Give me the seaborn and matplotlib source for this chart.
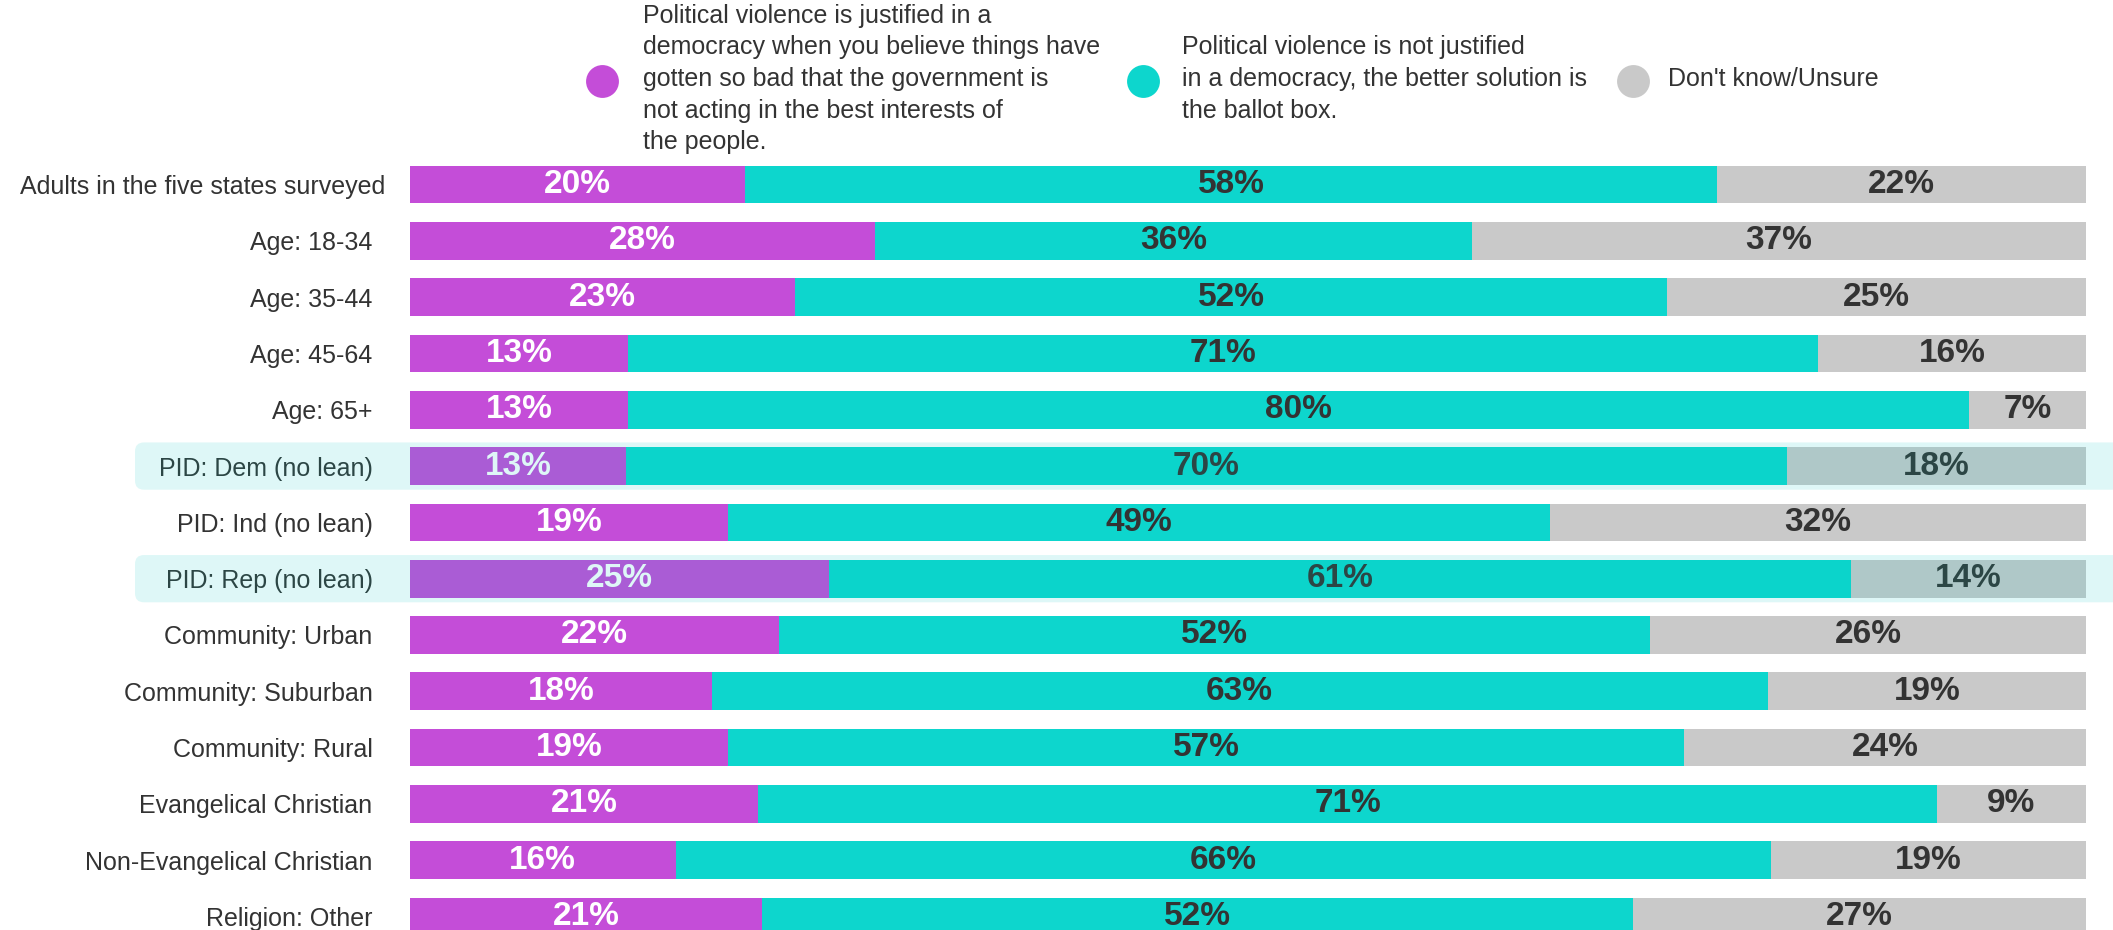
import numpy as np
import pandas as pd
import matplotlib.pyplot as plt
import seaborn as sns
from matplotlib.patches import FancyBboxPatch
from matplotlib.transforms import blended_transform_factory, ScaledTranslation

# --- data ---
groups = [
    'Adults in the five states surveyed', 'Age: 18-34', 'Age: 35-44', 'Age: 45-64',
    'Age: 65+', 'PID: Dem (no lean)', 'PID: Ind (no lean)', 'PID: Rep (no lean)',
    'Community: Urban', 'Community: Suburban', 'Community: Rural',
    'Evangelical Christian', 'Non-Evangelical Christian', 'Religion: Other',
]
justified = [20, 28, 23, 13, 13, 13, 19, 25, 22, 18, 19, 21, 16, 21]
not_justified = [58, 36, 52, 71, 80, 70, 49, 61, 52, 63, 57, 71, 66, 52]
unsure = [22, 37, 25, 16, 7, 18, 32, 14, 26, 19, 24, 9, 19, 27]
highlighted = ['PID: Dem (no lean)', 'PID: Rep (no lean)']

legend_labels = [
    'Political violence is justified in a\ndemocracy when you believe things have\n'
    'gotten so bad that the government is\nnot acting in the best interests of\nthe people.',
    'Political violence is not justified\nin a democracy, the better solution is\nthe ballot box.',
    "Don't know/Unsure",
]

PURPLE = '#c44dd8'
TEAL = '#0dd6cd'
GRAY = '#c9c9c9'
DARK = '#333333'

sns.set_style('white')
plt.rcParams['font.family'] = ['Liberation Sans', 'DejaVu Sans']

# rounded totals don't always add to 100, so scale each row to its total
df = pd.DataFrame({'group': groups, 'j': justified, 'n': not_justified, 'u': unsure})
df['total'] = df[['j', 'n', 'u']].sum(axis=1)
df['j_pct'] = df['j'] / df['total'] * 100
df['jn_pct'] = (df['j'] + df['n']) / df['total'] * 100
df['all_pct'] = 100.0

W, H = 2113, 930
fig = plt.figure(figsize=(W / 100, H / 100), dpi=100)
ax = fig.add_axes([410 / W, 0, (2086 - 410) / W, 773.6 / H])

# stacked bars: draw cumulative totals back to front
for col, colour in [('all_pct', GRAY), ('jn_pct', TEAL), ('j_pct', PURPLE)]:
    sns.barplot(data=df, x=col, y='group', orient='h', color=colour,
                saturation=1, width=0.67, linewidth=0, ax=ax)

ax.set_xlim(0, 100)
ax.set_ylim(13.24, -0.5)
ax.set_xlabel('')
ax.set_ylabel('')
ax.set_xticks([])
ax.tick_params(axis='y', length=0, pad=27, labelsize=18, labelcolor=DARK)
sns.despine(ax=ax, left=True, bottom=True)

# the first label sits a little further right in the original
first = ax.get_yticklabels()[0]
first.set_transform(first.get_transform() + ScaledTranslation(9 / 72, 0, fig.dpi_scale_trans))

# value labels in the middle of each segment
for i, row in df.iterrows():
    segs = [(0, row['j_pct'], row['j'], 'white'),
            (row['j_pct'], row['jn_pct'], row['n'], DARK),
            (row['jn_pct'], 100, row['u'], DARK)]
    for start, end, val, tc in segs:
        ax.text((start + end) / 2, i, f'{val}%', ha='center', va='center',
                fontsize=24, fontweight='bold', color=tc)

# translucent cyan band over the party-ID rows
band = blended_transform_factory(fig.transFigure, ax.transData)
for name in highlighted:
    i = groups.index(name)
    r = 9 / W
    patch = FancyBboxPatch((135 / W, i - 0.42), 1.0, 0.84,
                           boxstyle=f'round,pad=0,rounding_size={r}',
                           mutation_aspect=(9 / 56.3) / r,
                           transform=band, clip_on=False,
                           facecolor='#00c8c3', alpha=0.13, linewidth=0, zorder=20)
    ax.add_patch(patch)

# legend drawn by hand on a full-figure overlay
lax = fig.add_axes([0, 0, 1, 1], zorder=-1)
lax.set_xlim(0, W)
lax.set_ylim(H, 0)
lax.axis('off')
for cx, tx, colour, label in zip([602, 1143, 1633], [643, 1182, 1668],
                                 [PURPLE, TEAL, GRAY], legend_labels):
    lax.scatter([cx], [81], s=560, color=colour, linewidths=0)
    lax.text(tx, 79, label, ha='left', va='center', fontsize=18,
             color=DARK, linespacing=1.4)

fig.savefig('out.png', dpi=100)
plt.close()
